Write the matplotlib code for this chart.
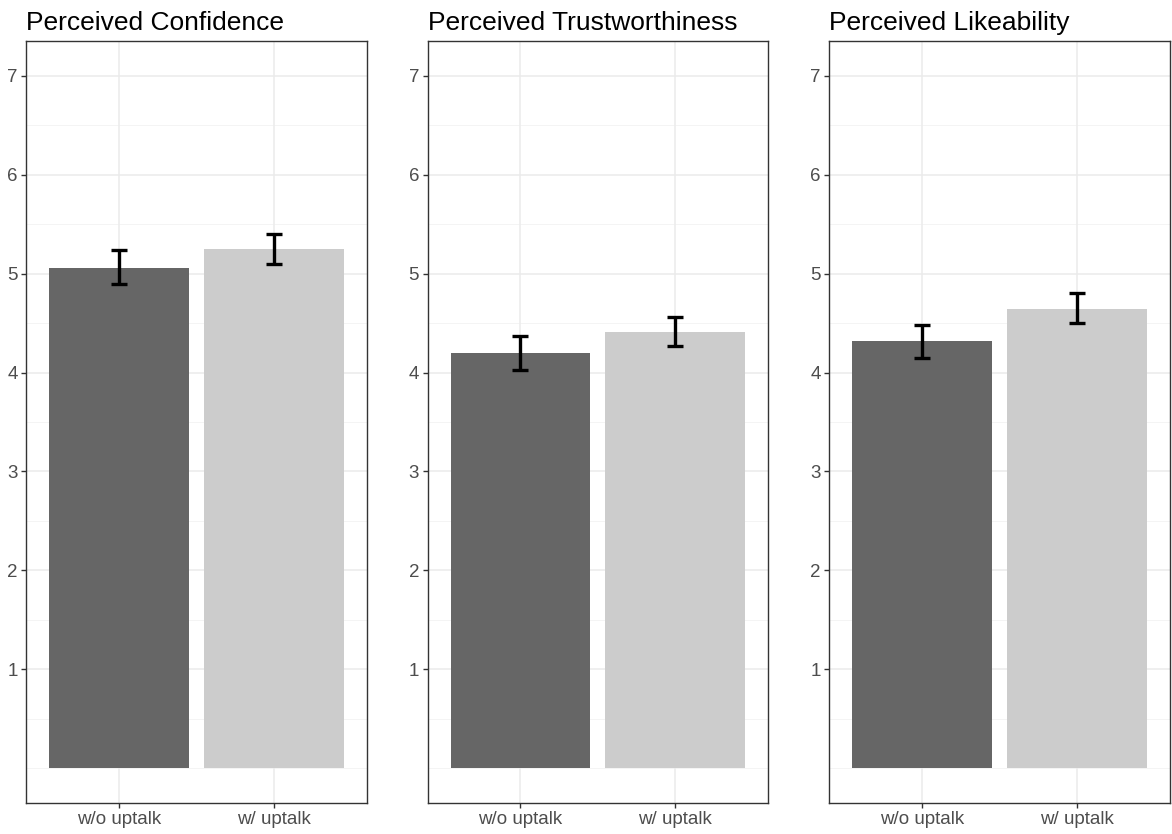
import matplotlib.pyplot as plt
import numpy as np

plt.rcParams["font.family"] = ["Liberation Sans", "DejaVu Sans"]

titles = ["Perceived Confidence", "Perceived Trustworthiness", "Perceived Likeability"]
conditions = ["w/o uptalk", "w/ uptalk"]
means = [
    [5.06, 5.25],
    [4.20, 4.41],
    [4.32, 4.64],
]
err_low = [
    [4.89, 5.10],
    [4.03, 4.27],
    [4.15, 4.50],
]
err_high = [
    [5.24, 5.40],
    [4.37, 4.56],
    [4.48, 4.80],
]
bar_colors = ["#666666", "#CCCCCC"]
y_ticks = [1, 2, 3, 4, 5, 6, 7]
y_minor = [0, 0.5, 1.5, 2.5, 3.5, 4.5, 5.5, 6.5]

W, H = 1172, 834
fig = plt.figure(figsize=(W / 100, H / 100), dpi=100)

# panel edges in pixels (left, right)
panel_x = [(26, 367), (427.5, 768), (829, 1170)]
top_px, bot_px = 41, 803

for i, (x0, x1) in enumerate(panel_x):
    ax = fig.add_axes([x0 / W, 1 - bot_px / H, (x1 - x0) / W, (bot_px - top_px) / H])
    x = np.arange(1, len(conditions) + 1)
    m = np.array(means[i])
    lo = m - np.array(err_low[i])
    hi = np.array(err_high[i]) - m

    for yv in y_minor:
        ax.axhline(yv, color="#F2F2F2", lw=0.6, zorder=0)
    for yv in y_ticks:
        ax.axhline(yv, color="#EBEBEB", lw=1.1, zorder=0)
    for xv in x:
        ax.axvline(xv, color="#EBEBEB", lw=1.1, zorder=0)

    ax.bar(x, m, width=0.9, color=bar_colors, zorder=2)
    ax.errorbar(x, m, yerr=[lo, hi], fmt="none", ecolor="black",
                elinewidth=2.4, capsize=6, capthick=2.4, zorder=3)

    ax.set_xlim(0.4, 2.6)
    ax.set_ylim(-0.35, 7.35)
    ax.set_xticks(x)
    ax.set_xticklabels(conditions)
    ax.set_yticks(y_ticks)
    ax.tick_params(axis="both", labelsize=13.5, labelcolor="#4D4D4D",
                   color="#333333", length=3.5, width=1, pad=2.5)
    for s in ax.spines.values():
        s.set_color("#333333")
        s.set_linewidth(1)
    ax.set_title(titles[i], loc="left", fontsize=19, pad=8, x=0.0)

fig.savefig("out.png", dpi=100)
